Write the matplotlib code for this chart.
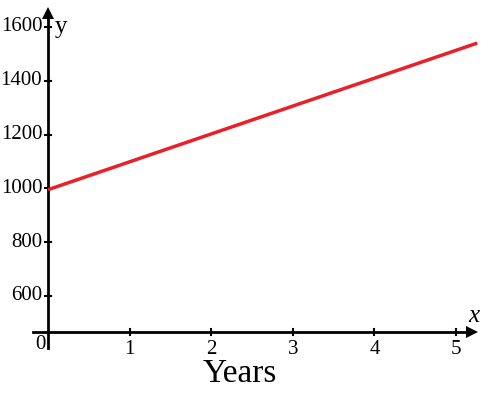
import matplotlib.pyplot as plt
import numpy as np

years = [0, 5.26]
amount = [995, 1540]
xticks = [1, 2, 3, 4, 5]
yticks = [600, 800, 1000, 1200, 1400, 1600]

plt.rcParams['font.family'] = ['Liberation Serif', 'DejaVu Serif']

fig = plt.figure(figsize=(4.89, 3.96), dpi=100)
ax = fig.add_axes([0, 0, 1, 1])
ax.set_xlim(-48 / 81.6, (489 - 48) / 81.6)
ax.set_ylim(466 - (396 - 332) / 0.269, 466 + 332 / 0.269)
ax.axis('off')

# axes lines with arrows
ax.plot([-0.18, 5.2], [466, 466], color='black', lw=2)
ax.plot([0, 0], [406, 1652], color='black', lw=2)
ax.plot(5.2, 466, marker='>', color='black', ms=8, mew=0)
ax.plot(0, 1652, marker='^', color='black', ms=8, mew=0)

# ticks
for t in xticks:
    ax.plot([t, t], [466 - 11, 466 + 11], color='black', lw=1.5)
    ax.text(t, 466 - 30, str(t), ha='center', va='top', fontsize=15)
for t in yticks:
    ax.plot([-0.04, 0.04], [t, t], color='black', lw=1.5)
    ax.text(-0.07, t, str(t), ha='right', va='center', fontsize=15)
ax.text(-0.03, 466 - 10, '0', ha='right', va='top', fontsize=15)

ax.plot(years, amount, color='#e8202a', lw=2.5, solid_capstyle='butt')

ax.text(0.08, 1600, 'y', ha='left', va='center', fontsize=18)
ax.text(5.15, 466 + 20, 'x', ha='left', va='bottom', fontsize=18, style='italic')
ax.text(2.35, 466 - 98, 'Years', ha='center', va='top', fontsize=24)

plt.savefig('out.png', dpi=100)
